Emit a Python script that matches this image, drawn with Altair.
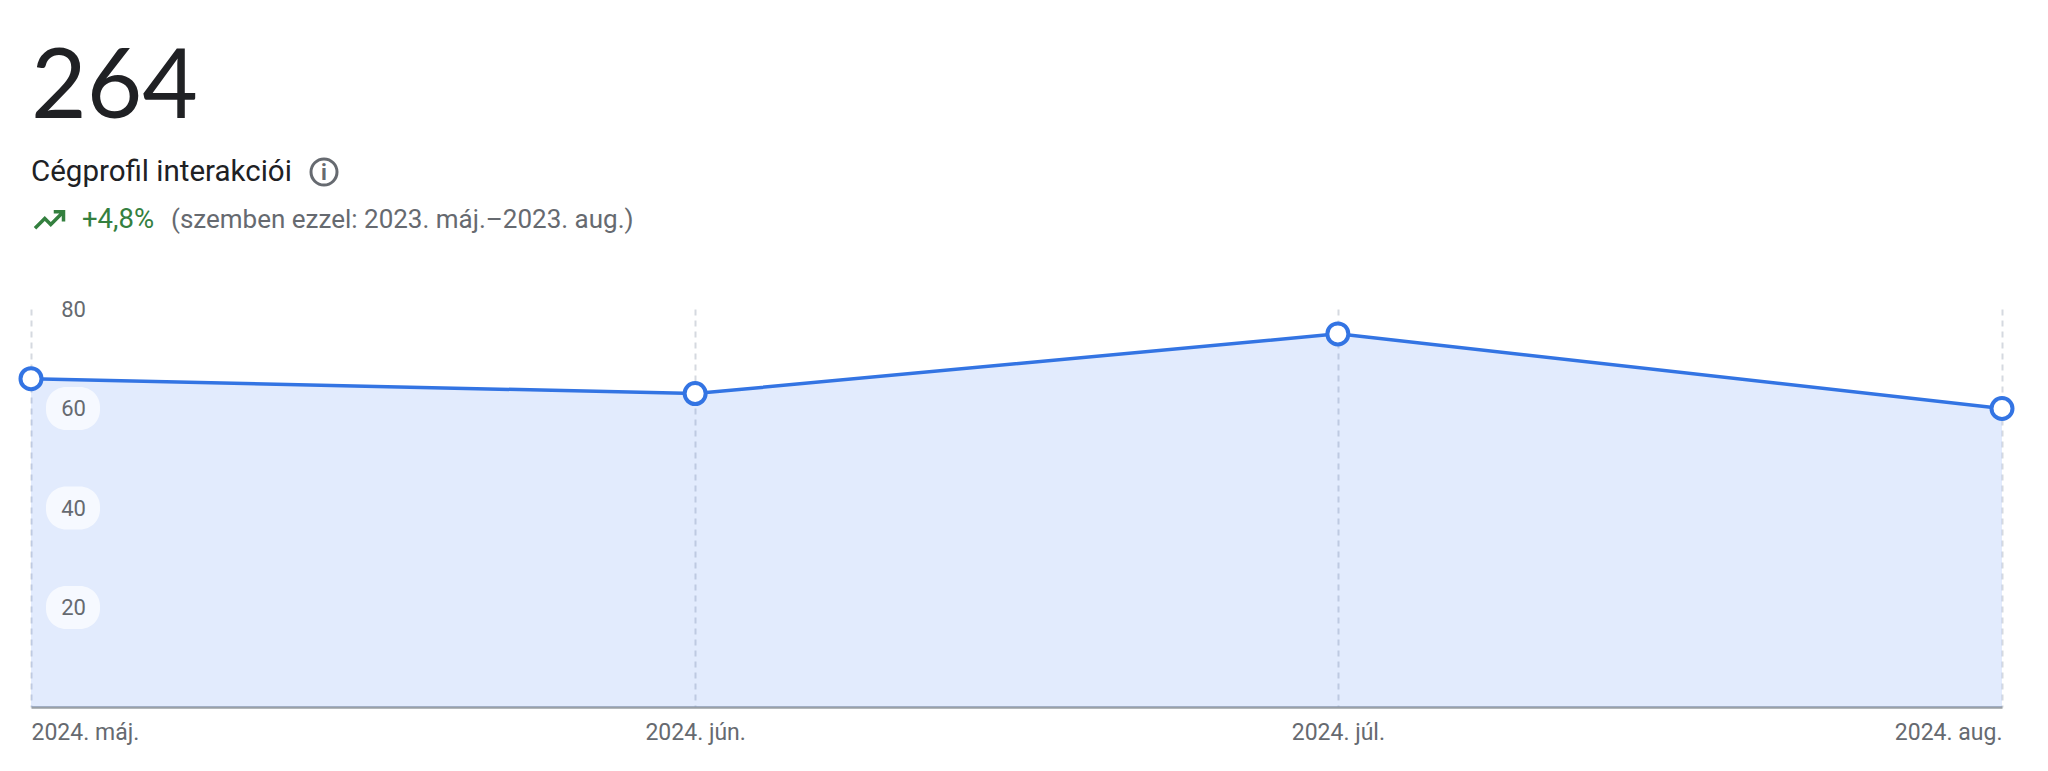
import altair as alt
import pandas as pd

months = ["2024-05-01", "2024-06-01", "2024-07-01", "2024-08-01"]
values = [66, 63, 75, 60]
month_labels = ["2024. máj.", "2024. jún.", "2024. júl.", "2024. aug."]
y_ticks = [20, 40, 60, 80]
pill_ticks = [20, 40, 60]

BLUE = "#3374e3"
AREA = "#3a7bf0"
GREY = "#666a70"
FONT = "Roboto"

df = pd.DataFrame({"month": months, "value": values})
tick_ms = [int(pd.Timestamp(m, tz="UTC").timestamp() * 1000) for m in months]
label_expr = "[" + ",".join(f"'{s}'" for s in month_labels) + "][utcmonth(datum.value)-4]"
align_expr = "utcmonth(datum.value)==4?'left':(utcmonth(datum.value)==7?'right':'center')"

x_enc = alt.X(
    "month:T",
    scale=alt.Scale(type="utc", nice=False),
    title=None,
    axis=alt.Axis(
        values=tick_ms, labelExpr=label_expr, labelAlign=alt.expr(align_expr),
        labelFont=FONT, labelFontSize=23, labelColor=GREY, labelPadding=14,
        labelBound=False, labelFlush=False, labelOverlap=False,
        ticks=False, domain=True, domainColor="#9aa0a6", domainWidth=2.5,
        grid=True, gridColor="#d5d9e0", gridDash=[6, 5], gridWidth=2,
    ),
)
y_enc = alt.Y(
    "value:Q",
    scale=alt.Scale(domain=[0, 80], nice=False),
    title=None,
    axis=alt.Axis(
        values=y_ticks, grid=False, ticks=False, domain=False, zindex=1,
        labelFont=FONT, labelFontSize=22, labelColor=GREY,
        labelAlign="center", labelPadding=-42, labelBaseline="middle",
    ),
)

base = alt.Chart(df)
area = base.mark_area(color=AREA, opacity=0.15).encode(x=x_enc, y=y_enc)
line = base.mark_line(color=BLUE, strokeWidth=3.5).encode(x="month:T", y="value:Q")
points = base.mark_point(filled=True, fill="white", stroke=BLUE, strokeWidth=4, size=441, opacity=1).encode(
    x="month:T", y="value:Q"
)
pills = alt.Chart(pd.DataFrame({"value": pill_ticks})).mark_rect(
    width=54, height=43, cornerRadius=20, color="white", opacity=0.7
).encode(x=alt.value(42), y=alt.Y("value:Q"))


def text(label, px, py, size, color, font=FONT, weight=400, align="left"):
    return alt.Chart(pd.DataFrame({"t": [label]})).mark_text(
        align=align, baseline="alphabetic", fontSize=size, color=color, font=font,
        fontWeight=weight,
    ).encode(x=alt.value(px - 31), y=alt.value(py - 309), text="t:N")


big = text("264", 31, 118, 96, "#202124", font="Lato", weight=400)
title = text("Cégprofil interakciói", 31, 181, 29.5, "#202124")
delta = text("+4,8%", 82, 228, 27.5, "#34803f", weight=400)
comparison = text("(szemben ezzel: 2023. máj.–2023. aug.)", 171, 228, 26, GREY)

icon_data = pd.DataFrame({"i": [0]})
info_ring = alt.Chart(icon_data).mark_point(
    shape="circle", size=676, stroke=GREY, strokeWidth=3, filled=False, opacity=1
).encode(x=alt.value(324 - 31), y=alt.value(172 - 309))
info_i = text("i", 324, 180, 22, GREY, weight=700, align="center")
trend = alt.Chart(icon_data).mark_point(
    shape="M-1 0.55 L-0.35 -0.1 L0.05 0.3 L0.85 -0.5 M0.25 -0.55 L0.9 -0.55 L0.9 0.1",
    size=900, stroke="#34803f", strokeWidth=3.5, filled=False, opacity=1,
).encode(x=alt.value(50 - 31), y=alt.value(220 - 309))

chart = alt.layer(
    area, pills, line, points, big, title, delta, comparison, info_ring, info_i, trend
).properties(
    width=1971, height=398,
    autosize=alt.AutoSizeParams(type="none"),
    padding={"left": 23, "top": 301, "right": 30, "bottom": 52},
).configure_view(stroke=None)

chart.save("out.html", embed_options={"renderer": "svg", "actions": False})
